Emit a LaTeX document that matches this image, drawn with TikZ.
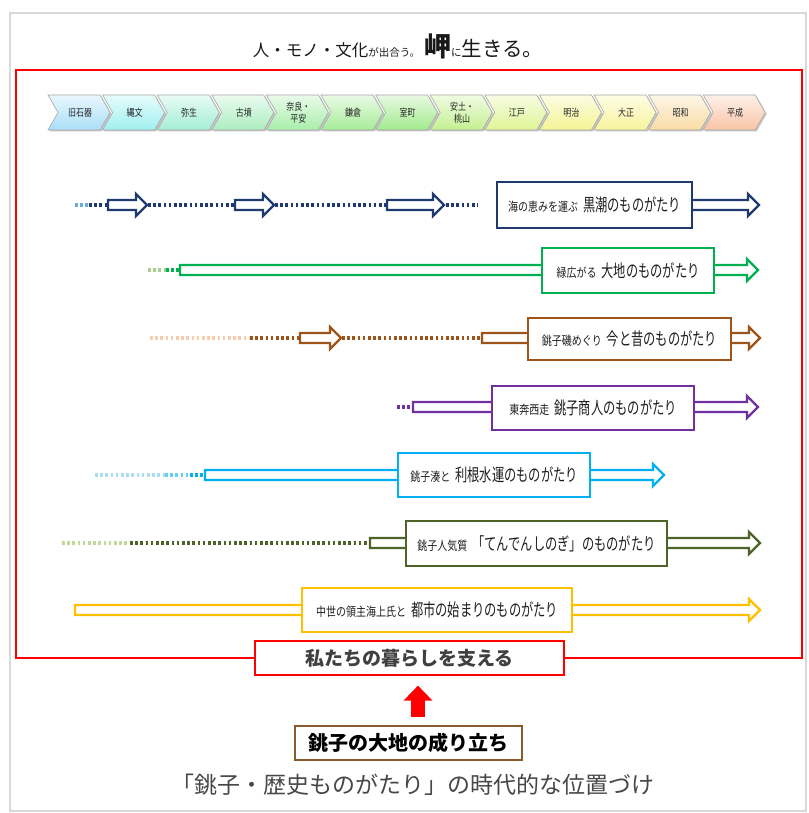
\documentclass[tikz,border=0pt]{standalone}
\usepackage{fontspec}
\newfontfamily\jp[FakeStretch=0.8]{Noto Sans CJK JP}
\newfontfamily\jpl[FakeStretch=0.7]{Noto Sans CJK JP}
\newfontfamily\jpn{Noto Sans CJK JP}
\usetikzlibrary{arrows.meta,calc}
\definecolor{navy}{HTML}{1F3A70}
\definecolor{navyl}{HTML}{6FA8DC}
\definecolor{grn}{HTML}{00B050}
\definecolor{grnl}{HTML}{A9D18E}
\definecolor{brn}{HTML}{9E5418}
\definecolor{brnl}{HTML}{F8CBAD}
\definecolor{prp}{HTML}{7030A0}
\definecolor{blu}{HTML}{00B0F0}
\definecolor{blul}{HTML}{A9DDF3}
\definecolor{oli}{HTML}{4F6228}
\definecolor{olil}{HTML}{C4D79B}
\definecolor{gld}{HTML}{FFC000}
\definecolor{basebrn}{HTML}{8B5A2B}
\definecolor{cA}{HTML}{A9DFF8}
\definecolor{cB}{HTML}{A0F0F0}
\definecolor{cC}{HTML}{A4EED6}
\definecolor{cD}{HTML}{ACEEC0}
\definecolor{cE}{HTML}{A8EEAA}
\definecolor{cF}{HTML}{A6EC98}
\definecolor{cG}{HTML}{A2EA8C}
\definecolor{cH}{HTML}{C4F090}
\definecolor{cI}{HTML}{E0F494}
\definecolor{cJ}{HTML}{F4F494}
\definecolor{cK}{HTML}{F8F49C}
\definecolor{cL}{HTML}{F9DCA4}
\definecolor{cM}{HTML}{F9C4A6}
\newcommand{\harrow}[4]{\draw[#1,line width=2.3pt,fill=white,line join=miter] (#2,#4-5) -- (#3-11,#4-5) -- (#3-11,#4-11) -- (#3,#4) -- (#3-11,#4+11) -- (#3-11,#4+5) -- (#2,#4+5) -- cycle;}
\newcommand{\dotrun}[4]{\draw[#1,line width=3.5pt,dash pattern=on 2.6pt off 2.6pt] (#2,#4) -- (#3,#4);}
\newcommand{\storytxt}[2]{{\jp\fontsize{12.5}{13}\selectfont #1\hspace{5pt}\jpl\fontsize{17.5}{18}\selectfont #2}}
\tikzset{
  story/.style={draw=#1, line width=1.2pt, fill=white, inner sep=0pt, text=black!88},
  chev/.style={align=center, font=\jp\fontsize{10}{11.5}\selectfont, text=black!85}
}
\begin{document}
\begin{tikzpicture}[x=1pt,y=-1pt]
\useasboundingbox (0,0) rectangle (808,813);
\fill[white] (0,0) rectangle (808,813);
\draw[black!15, line width=2.5pt] (10,13) rectangle (806,811);
% title
\node[anchor=base, text=black!90] (title) at (398,57) {\jpn\fontsize{16.5}{17}\selectfont 人・モノ・文化\fontsize{10.5}{11}\selectfont が出合う。\hspace{4pt}\fontsize{27}{27}\selectfont\bfseries 岬\mdseries\fontsize{10.5}{11}\selectfont に\fontsize{20.5}{21}\selectfont 生きる。};
% red frame
\draw[red, line width=2pt] (16,70) rectangle (802,658);
% chevrons
\foreach \lab/\col [count=\i from 0] in {旧石器/cA, 縄文/cB, 弥生/cC, 古墳/cD, {奈良・\\平安}/cE, 鎌倉/cF, 室町/cG, {安土・\\桃山}/cH, 江戸/cI, 明治/cJ, 大正/cK, 昭和/cL, 平成/cM}{
  \pgfmathsetmacro\xo{48+54.6*\i}
  \fill[black!22] (\xo+1.5,96.5) -- ++(52,0) -- ++(10,17.5) -- ++(-10,17.5) -- ++(-52,0) -- ++(10,-17.5) -- cycle;
  \shadedraw[top color=\col!25!white, bottom color=\col, draw=black!35, line width=0.6pt] (\xo,95) -- ++(52,0) -- ++(10,17.5) -- ++(-10,17.5) -- ++(-52,0) -- ++(10,-17.5) -- cycle;
  \node[chev] (ch\i) at (\xo+32,112.5) {\lab};
}
% row 1
\dotrun{navyl}{75}{89}{205}
\dotrun{navy}{89}{108}{205}
\harrow{navy}{108}{147}{205}
\dotrun{navy}{148}{235}{205}
\harrow{navy}{235}{274}{205}
\dotrun{navy}{275}{387}{205}
\harrow{navy}{387}{444}{205}
\dotrun{navy}{446}{478}{205}
\harrow{navy}{600}{759}{205}
\node[story=navy, minimum width=195pt, minimum height=46pt] (r1) at (594.5,205) {\storytxt{海の恵みを運ぶ}{黒潮のものがたり}};
% row 2
\dotrun{grnl}{148}{166}{270}
\dotrun{grn}{166}{180}{270}
\harrow{grn}{180}{758}{270}
\node[story=grn, minimum width=172pt, minimum height=45pt] (r2) at (628,270.5) {\storytxt{緑広がる}{大地のものがたり}};
% row 3
\dotrun{brnl}{150}{250}{338}
\dotrun{brn}{250}{300}{338}
\harrow{brn}{300}{341}{338}
\dotrun{brn}{342}{482}{338}
\harrow{brn}{482}{760}{338}
\node[story=brn, minimum width=203pt, minimum height=42pt] (r3) at (629.5,339) {\storytxt{銚子磯めぐり}{今と昔のものがたり}};
% row 4
\dotrun{prp}{397}{413}{407}
\harrow{prp}{413}{758}{407}
\node[story=prp, minimum width=202pt, minimum height=44pt] (r4) at (593,408) {\storytxt{東奔西走}{銚子商人のものがたり}};
% row 5
\dotrun{blul}{95}{165}{475}
\dotrun{blu!60}{165}{190}{475}
\dotrun{blu}{190}{205}{475}
\harrow{blu}{205}{664}{475}
\node[story=blu, minimum width=192pt, minimum height=44pt] (r5) at (494,475) {\storytxt{銚子湊と}{利根水運のものがたり}};
% row 6
\dotrun{olil}{62}{130}{543}
\dotrun{oli}{130}{370}{543}
\harrow{oli}{370}{760}{543}
\node[story=oli, minimum width=261pt, minimum height=45pt] (r6) at (536.5,543.5) {\storytxt{銚子人気質}{「てんでんしのぎ」のものがたり}};
% row 7
\harrow{gld}{75}{760}{610}
\node[story=gld, minimum width=270pt, minimum height=44pt] (r7) at (437,610) {\storytxt{中世の領主海上氏と}{都市の始まりのものがたり}};
% bottom
\node[draw=red, line width=1.2pt, fill=white, minimum width=309pt, minimum height=34pt, inner sep=0pt, text=black!75] (life) at (409.5,658) {\jpn\bfseries\fontsize{19}{20}\selectfont 私たちの暮らしを支える};
\node[draw=basebrn, line width=1.6pt, fill=white, minimum width=227pt, minimum height=34pt, inner sep=0pt, text=black] (base) at (408.5,743) {\jpn\bfseries\fontsize{20}{21}\selectfont 銚子の大地の成り立ち};
\draw[red, line width=14pt, -{Triangle[width=28pt,length=15pt]}] ($(base.north)+(9.5,-8)$) -- ($(life.south)+(8.5,10)$);
\node[text=black!72] (cap) at (413,785) {\jpn\fontsize{23}{24}\selectfont 「銚子・歴史ものがたり」の時代的な位置づけ};
\end{tikzpicture}
\end{document}
